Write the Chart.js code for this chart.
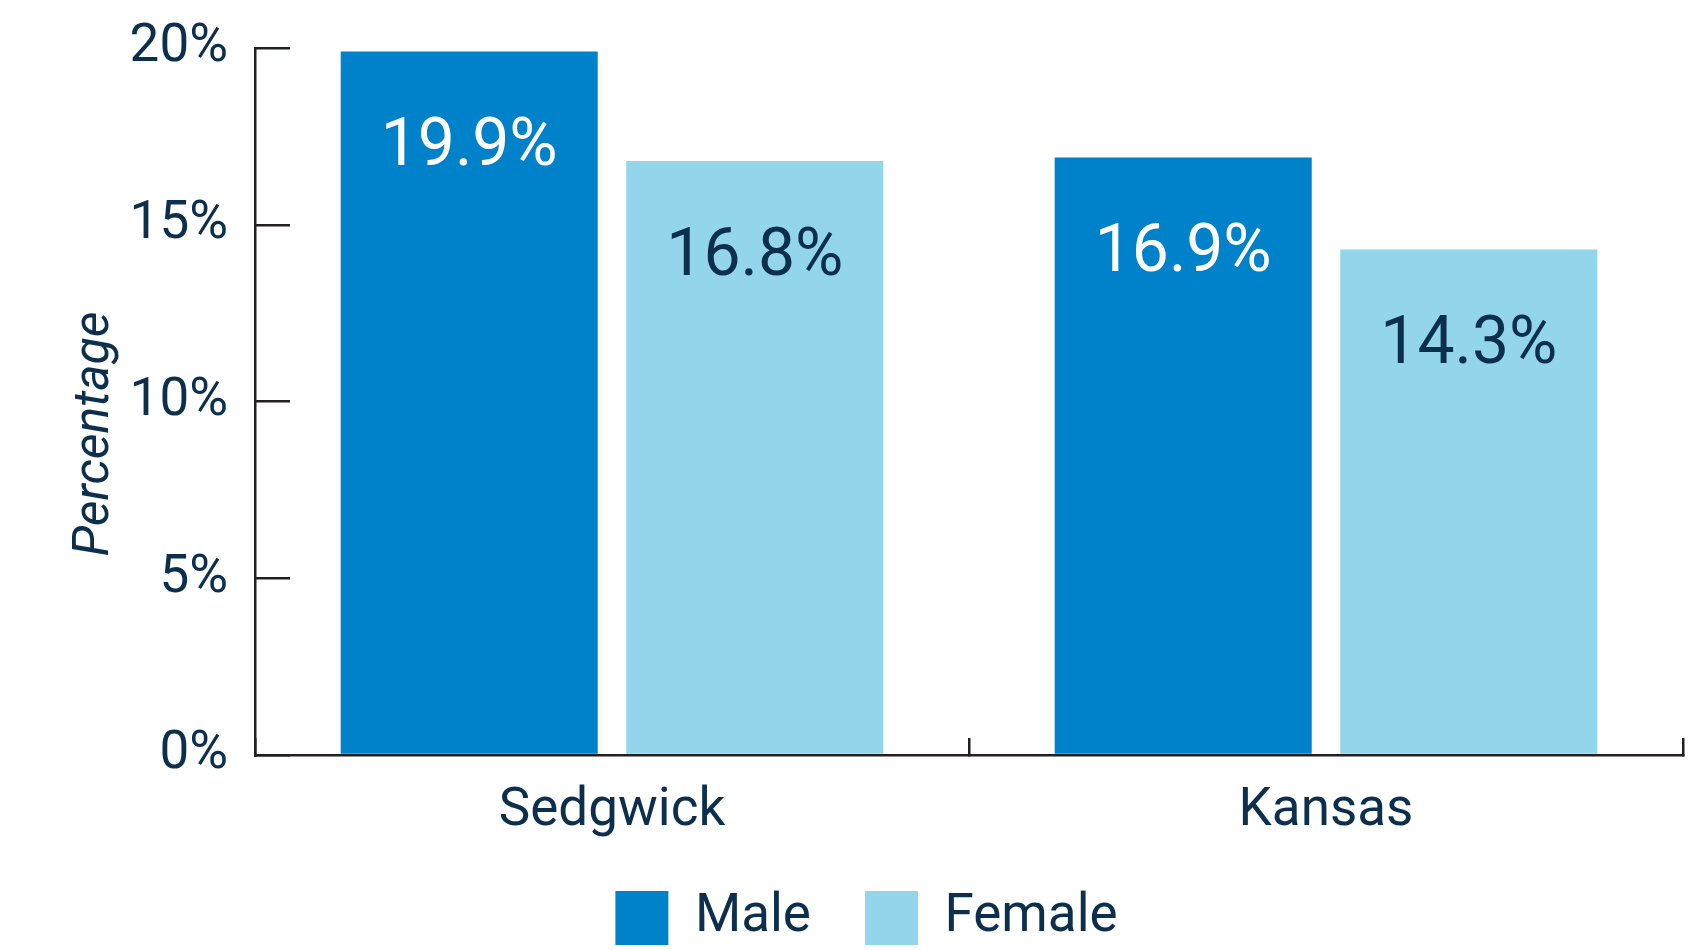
<!DOCTYPE html>
<html>
<head>
<meta charset="utf-8">
<script src="https://cdn.jsdelivr.net/npm/chart.js@4"></script>
<style>
  html, body { margin: 0; padding: 0; background: #ffffff; }
  #wrap { width: 1688px; height: 950px; }
</style>
</head>
<body>
<div id="wrap"><canvas id="barChart"></canvas></div>
<script>
// 차트 데이터
const categories = ["Sedgwick", "Kansas"];
const maleValues = [19.9, 16.9];
const femaleValues = [16.8, 14.3];
const yTicks = [0, 5, 10, 15, 20];

const navy = "#0c2f4e";
const axisColor = "#231f20";

// 막대 위 값 표시
const valueLabels = {
  id: "valueLabels",
  afterDatasetsDraw(chart) {
    const ctx = chart.ctx;
    ctx.save();
    ctx.font = "66px Roboto";
    ctx.textAlign = "center";
    ctx.textBaseline = "middle";
    chart.data.datasets.forEach((ds, i) => {
      chart.getDatasetMeta(i).data.forEach((bar, j) => {
        ctx.fillStyle = ds.labelColor;
        ctx.fillText(ds.data[j].toFixed(1) + "%", bar.x, bar.y + 97);
      });
    });
    ctx.restore();
  }
};

// y축 제목 (세로)
const yTitle = {
  id: "yTitle",
  afterDraw(chart) {
    const ctx = chart.ctx;
    ctx.save();
    ctx.translate(95, 434);
    ctx.rotate(-Math.PI / 2);
    ctx.font = "italic 50px Roboto";
    ctx.fillStyle = navy;
    ctx.textAlign = "center";
    ctx.textBaseline = "middle";
    ctx.fillText("Percentage", 0, 0);
    ctx.restore();
  }
};

const ctx = document.getElementById("barChart").getContext("2d");

new Chart(ctx, {
  type: "bar",
  data: {
    labels: categories,
    datasets: [
      {
        label: "Male",
        data: maleValues,
        backgroundColor: "#0082ca",
        labelColor: "#ffffff",
        borderWidth: 0,
        categoryPercentage: 0.8,
        barPercentage: 0.9
      },
      {
        label: "Female",
        data: femaleValues,
        backgroundColor: "#93d5ea",
        labelColor: navy,
        borderWidth: 0,
        categoryPercentage: 0.8,
        barPercentage: 0.9
      }
    ]
  },
  options: {
    responsive: true,
    maintainAspectRatio: false,
    animation: false,
    layout: {
      padding: { top: 48, left: 50, right: 5, bottom: -5 }
    },
    plugins: {
      tooltip: { enabled: false },
      legend: {
        position: "bottom",
        labels: {
          color: navy,
          boxWidth: 53,
          boxHeight: 54,
          padding: 54,
          font: { family: "Roboto", size: 53 }
        }
      }
    },
    scales: {
      x: {
        afterFit(scale) { scale.height = 82; },
        grid: {
          drawOnChartArea: false,
          offset: true,
          tickLength: -17,
          color: axisColor,
          lineWidth: 2.5
        },
        border: { color: axisColor, width: 2.5 },
        ticks: {
          color: navy,
          padding: 42,
          font: { family: "Roboto", size: 53 }
        }
      },
      y: {
        min: 0,
        max: 20,
        afterFit(scale) {
          scale.width = 205;
          scale.paddingTop = 32;
          scale.paddingBottom = 32;
        },
        afterBuildTicks(scale) { scale.ticks = yTicks.map((v) => ({ value: v })); },
        grid: {
          drawOnChartArea: false,
          tickLength: -35,
          color: axisColor,
          lineWidth: 2.5
        },
        border: { color: axisColor, width: 2.5 },
        ticks: {
          color: navy,
          padding: 62,
          font: { family: "Roboto", size: 53 },
          callback: (v) => v + "%"
        }
      }
    }
  },
  plugins: [valueLabels, yTitle]
});
</script>
</body>
</html>
